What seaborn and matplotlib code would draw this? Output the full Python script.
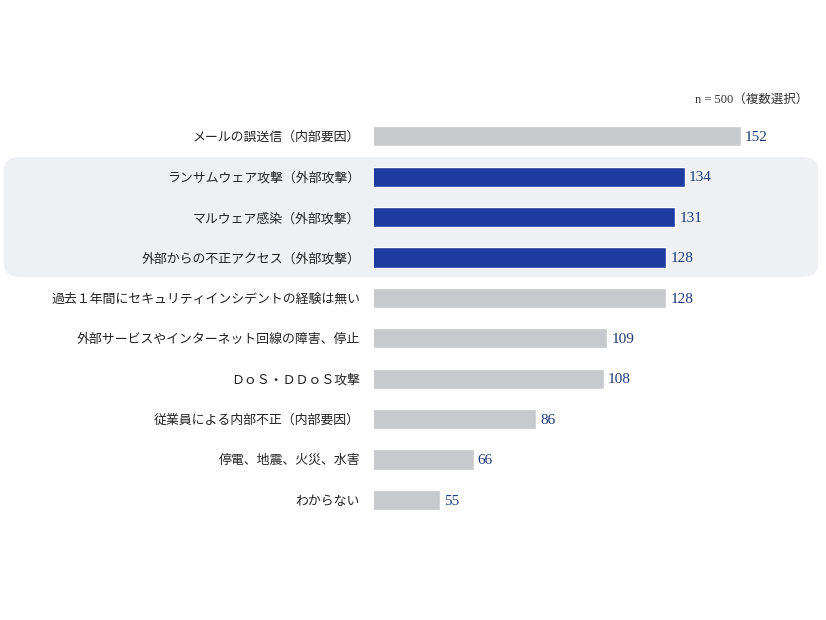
import matplotlib
matplotlib.use("Agg")
import matplotlib.pyplot as plt
import seaborn as sns
import pandas as pd
from matplotlib.patches import FancyBboxPatch

categories = [
    "メールの誤送信（内部要因）",
    "ランサムウェア攻撃（外部攻撃）",
    "マルウェア感染（外部攻撃）",
    "外部からの不正アクセス（外部攻撃）",
    "過去１年間にセキュリティインシデントの経験は無い",
    "外部サービスやインターネット回線の障害、停止",
    "ＤｏＳ・ＤＤｏＳ攻撃",
    "従業員による内部不正（内部要因）",
    "停電、地震、火災、水害",
    "わからない",
]
values = [152, 134, 131, 128, 128, 109, 108, 86, 66, 55]
groups = ["other", "attack", "attack", "attack", "other", "other", "other", "other", "other", "other"]
note = "n = 500（複数選択）"

sns.set_theme(style="white")
plt.rcParams["font.family"] = ["Noto Sans CJK JP", "DejaVu Sans"]

df = pd.DataFrame({"cat": categories, "val": values, "grp": groups})

W, H = 826, 620
fig = plt.figure(figsize=(W / 100, H / 100), dpi=100)
fig.patch.set_facecolor("white")

# highlight background
bg = FancyBboxPatch((4 / W, 1 - 277 / H), (818 - 4) / W, (277 - 157) / H,
                    boxstyle="round,pad=0,rounding_size=0.02",
                    transform=fig.transFigure, facecolor="#eff0f3",
                    edgecolor="none", zorder=-5)
fig.patches.append(bg)

ax_left, ax_right = 374, 800
ax_top, ax_bot = 116, 520
ax = fig.add_axes([ax_left / W, 1 - ax_bot / H, (ax_right - ax_left) / W, (ax_bot - ax_top) / H])
ax.set_zorder(2)
ax.patch.set_alpha(0)

palette = {"other": "#c8c9cc", "attack": "#1c3a9f"}
sns.barplot(data=df, y="cat", x="val", hue="grp", palette=palette, dodge=False,
            width=0.5, legend=False, ax=ax, saturation=1)

# scale: zero at x=269 px, 3.103 px per unit
px_per = 3.103
zero_px = 269
ax.set_xlim((ax_left - zero_px) / px_per, (ax_right - zero_px) / px_per)
ax.set_ylim(len(categories) - 0.5, -0.5)

for i, v in enumerate(values):
    ax.text(v + 1.3, i + 0.03, str(v), va="center", ha="left", fontsize=11,
            color="#1f3a78", family=["Liberation Serif", "DejaVu Serif"])

ax.set_xlabel("")
ax.set_ylabel("")
ax.set_xticks([])
ax.tick_params(axis="y", length=0, pad=10, labelsize=9.3, labelcolor="#222222")
for s in ax.spines.values():
    s.set_visible(False)

fig.text(808 / W, 1 - 100 / H, note, ha="right", va="center", fontsize=9,
         color="#333333", family=["Liberation Serif", "Noto Sans CJK JP"])

fig.savefig("out.png", dpi=100)
